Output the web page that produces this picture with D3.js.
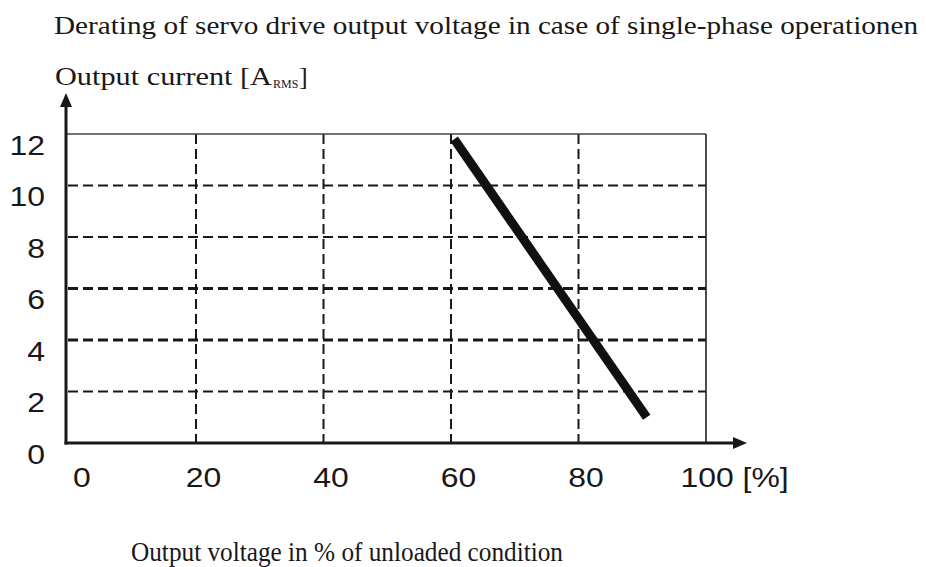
<!DOCTYPE html>
<html>
<head>
<meta charset="utf-8">
<script src="https://cdn.jsdelivr.net/npm/d3@7"></script>
<style>
  html, body { margin: 0; padding: 0; background: #fff; }
  svg { display: block; }
</style>
</head>
<body>
<svg id="chart" width="926" height="567"></svg>
<script>
// ---- data ----
const title = "Derating of servo drive output voltage in case of single-phase operationen";
const yTitle = "Output current [A";
const yTitleSub = "RMS";
const xTitle = "Output voltage in % of unloaded condition";
const xUnit = "[%]";
const xTicks = [0, 20, 40, 60, 80, 100];
const yTicks = [0, 2, 4, 6, 8, 10, 12];
const deratingVoltage = [60.5, 90.7];   // % of unloaded condition
const deratingCurrent = [11.8, 1.0];    // A RMS

// ---- layout ----
const svg = d3.select("#chart");
const x = d3.scaleLinear().domain([0, 100]).range([68.5, 706]);
const y = d3.scaleLinear().domain([0, 12]).range([443, 134]);
const axisX0 = x(0) - 2.5;
const ink = "#1a1718";
const sans = "'Liberation Sans', Arial, sans-serif";
const serif = "'Liberation Serif', 'Times New Roman', serif";
const sx = 1.14; // horizontal stretch of the tick lettering

// grid: horizontal dashed lines
svg.append("g").selectAll("line")
  .data(yTicks.filter(d => d > 0 && d < 12))
  .join("line")
  .attr("x1", axisX0 + 2).attr("x2", x(100))
  .attr("y1", d => y(d)).attr("y2", d => y(d))
  .attr("stroke", ink)
  .attr("stroke-width", d => (d === 4 || d === 6) ? 3 : 2.2)
  .attr("stroke-dasharray", "10,5");

// grid: vertical dashed lines
svg.append("g").selectAll("line")
  .data(xTicks.filter(d => d > 0 && d < 100))
  .join("line")
  .attr("x1", d => x(d)).attr("x2", d => x(d))
  .attr("y1", y(12)).attr("y2", y(0))
  .attr("stroke", ink)
  .attr("stroke-width", 2)
  .attr("stroke-dasharray", "10,5");

// frame: top and right
svg.append("line")
  .attr("x1", axisX0).attr("x2", x(100))
  .attr("y1", y(12)).attr("y2", y(12))
  .attr("stroke", "#444").attr("stroke-width", 1.6);
svg.append("line")
  .attr("x1", x(100)).attr("x2", x(100))
  .attr("y1", y(12)).attr("y2", y(0))
  .attr("stroke", "#222").attr("stroke-width", 1.6);

// derating line
const line = d3.line().x(d => x(d[0])).y(d => y(d[1]));
svg.append("path")
  .datum(deratingVoltage.map((v, i) => [v, deratingCurrent[i]]))
  .attr("d", line)
  .attr("fill", "none")
  .attr("stroke", "#111")
  .attr("stroke-width", 9)
  .attr("stroke-linecap", "butt");

// axes lines with arrows
const xAxisEnd = 747, yAxisTop = 93;
svg.append("line")
  .attr("x1", axisX0 - 1.5).attr("x2", xAxisEnd - 12)
  .attr("y1", y(0)).attr("y2", y(0))
  .attr("stroke", ink).attr("stroke-width", 3);
svg.append("path")
  .attr("d", `M${xAxisEnd},${y(0)} L${xAxisEnd - 14},${y(0) - 6} L${xAxisEnd - 14},${y(0) + 6} Z`)
  .attr("fill", ink);
svg.append("line")
  .attr("x1", axisX0).attr("x2", axisX0)
  .attr("y1", y(0) + 1.5).attr("y2", yAxisTop + 12)
  .attr("stroke", ink).attr("stroke-width", 3);
svg.append("path")
  .attr("d", `M${axisX0},${yAxisTop} L${axisX0 - 6},${yAxisTop + 14} L${axisX0 + 6},${yAxisTop + 14} Z`)
  .attr("fill", ink);

// y tick labels (via axis)
const gy = svg.append("g")
  .attr("transform", `translate(${axisX0},0)`)
  .call(d3.axisLeft(y).tickValues(yTicks).tickSize(0).tickPadding(0).tickFormat(d3.format("d")));
gy.select(".domain").remove();
gy.selectAll("text")
  .attr("font-family", sans).attr("font-size", 28).attr("fill", ink)
  .attr("dy", 0).attr("y", 20)
  .attr("x", -21 / sx)
  .attr("transform", `scale(${sx},1)`);

// x tick labels (via axis)
const gx = svg.append("g")
  .attr("transform", `translate(0,${y(0)})`)
  .call(d3.axisBottom(x).tickValues(xTicks).tickSize(0).tickPadding(0)
        .tickFormat(d => d === 100 ? `${d} ${xUnit}` : d3.format("d")(d)));
gx.select(".domain").remove();
gx.selectAll("text")
  .attr("font-family", sans).attr("font-size", 28).attr("fill", ink)
  .attr("dy", 0)
  .attr("y", 44)
  .attr("text-anchor", d => d === 100 ? "start" : "middle")
  .attr("x", d => (d === 100 ? -26 : (d === 0 ? 13 : 7)) / sx)
  .attr("transform", `scale(${sx},1)`);

// titles
svg.append("text")
  .attr("x", 54).attr("y", 34)
  .attr("font-family", serif).attr("font-size", 26).attr("fill", ink)
  .attr("textLength", 864).attr("lengthAdjust", "spacingAndGlyphs")
  .text(title);

const ytX = 55, ytY = 85;
const yt = svg.append("text")
  .attr("font-family", serif).attr("font-size", 26).attr("fill", ink);
yt.append("tspan").attr("x", ytX).attr("y", ytY)
  .attr("textLength", 217).attr("lengthAdjust", "spacingAndGlyphs")
  .text(yTitle);
yt.append("tspan").attr("x", ytX + 218).attr("y", ytY + 3)
  .attr("font-size", 12)
  .text(yTitleSub);
yt.append("tspan").attr("x", ytX + 244).attr("y", ytY)
  .text("]");

svg.append("text")
  .attr("x", 131).attr("y", 561)
  .attr("font-family", serif).attr("font-size", 27).attr("fill", ink)
  .attr("textLength", 432).attr("lengthAdjust", "spacingAndGlyphs")
  .text(xTitle);
</script>
</body>
</html>
